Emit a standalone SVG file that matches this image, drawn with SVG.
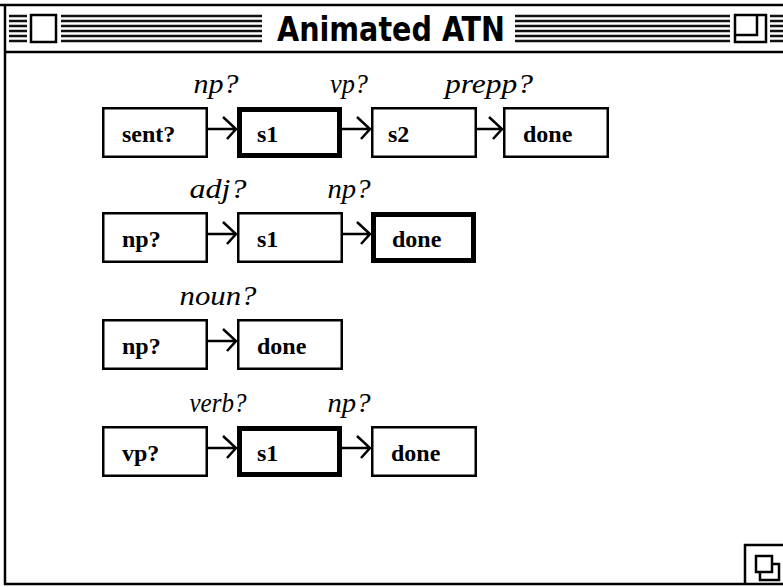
<svg xmlns="http://www.w3.org/2000/svg" width="783" height="587" viewBox="0 0 783 587">
<style>
.frame{fill:none;stroke:#000;stroke-width:2.5}
.stripe{stroke:#111;stroke-width:2.5}
.box{fill:#fff;stroke:#000;stroke-width:2.5}
.thick{fill:#fff;stroke:#000;stroke-width:5}
.lbl{font-family:"Liberation Serif",serif;font-weight:bold;font-size:24px;fill:#000}
.arc{font-family:"Liberation Serif",serif;font-style:italic;font-size:27px;fill:#000;text-anchor:middle}
.title{font-family:"DejaVu Sans Condensed","DejaVu Sans",sans-serif;font-weight:bold;font-size:33px;fill:#000}
.conn{fill:none;stroke:#000;stroke-width:2.5;stroke-linejoin:miter}
</style>
<rect x="0" y="0" width="783" height="587" fill="#fff"/>
<g id="window">
<line class="frame" x1="0" y1="5" x2="783" y2="5"/>
<line class="frame" x1="5" y1="4" x2="5" y2="585"/>
<line class="frame" x1="4" y1="52" x2="783" y2="52"/>
<line class="frame" x1="4" y1="584" x2="783" y2="584"/>
<g id="stripes">
<path class="stripe" d="M9 16H27M9 21H27M9 26H27M9 31H27M9 36H27M9 41H27"/>
<path class="stripe" d="M61 16H262M61 21H262M61 26H262M61 31H262M61 36H262M61 41H262"/>
<path class="stripe" d="M515 16H730M515 21H730M515 26H730M515 31H730M515 36H730M515 41H730"/>
<path class="stripe" d="M770 16H783M770 21H783M770 26H783M770 31H783M770 36H783M770 41H783"/>
</g>
<rect id="closebox" class="box" x="31" y="15" width="25" height="27"/>
<g id="zoombox">
<rect class="box" x="735" y="15" width="31" height="27"/>
<path class="frame" d="M735 35H757V15"/>
</g>
<text class="title" x="277" y="41" textLength="228" lengthAdjust="spacingAndGlyphs">Animated ATN</text>
<g id="growbox">
<path class="frame" d="M745 584V545H783"/>
<rect class="frame" x="756" y="556" width="16" height="16" fill="#fff"/>
<path class="frame" d="M760 572V580H779V564H772"/>
</g>
</g>

<g id="connectors">
<path class="conn" d="M208 129H236M223 117L236 129L227 139"/>
<path class="conn" d="M342 129H370M357 117L370 129L361 139"/>
<path class="conn" d="M477 129H502M489 117L502 129L493 139"/>
<path class="conn" d="M208 234H236M223 222L236 234L227 244"/>
<path class="conn" d="M342 234H370M357 222L370 234L361 244"/>
<path class="conn" d="M208 341H236M223 329L236 341L227 351"/>
<path class="conn" d="M208 448H236M223 436L236 448L227 458"/>
<path class="conn" d="M342 448H370M357 436L370 448L361 458"/>
</g>

<g id="arc-labels">
<text class="arc" x="216" y="93" textLength="45" lengthAdjust="spacingAndGlyphs">np?</text>
<text class="arc" x="349" y="93" textLength="38" lengthAdjust="spacingAndGlyphs">vp?</text>
<text class="arc" x="489" y="93" textLength="88" lengthAdjust="spacingAndGlyphs">prepp?</text>
<text class="arc" x="218" y="198" textLength="57" lengthAdjust="spacingAndGlyphs">adj?</text>
<text class="arc" x="349" y="198" textLength="43" lengthAdjust="spacingAndGlyphs">np?</text>
<text class="arc" x="218" y="305" textLength="77" lengthAdjust="spacingAndGlyphs">noun?</text>
<text class="arc" x="218" y="412" textLength="57" lengthAdjust="spacingAndGlyphs">verb?</text>
<text class="arc" x="349" y="412" textLength="43" lengthAdjust="spacingAndGlyphs">np?</text>
</g>

<g id="sent-start"><rect class="box" x="103.25" y="108.25" width="103.5" height="48.5"/><text class="lbl" x="122" y="142">sent?</text></g>
<g id="sent-s1"><rect class="thick" x="239.5" y="109.5" width="100" height="46"/><text class="lbl" x="257" y="142">s1</text></g>
<g id="sent-s2"><rect class="box" x="372.25" y="108.25" width="103.5" height="48.5"/><text class="lbl" x="388" y="142">s2</text></g>
<g id="sent-done"><rect class="box" x="504.25" y="108.25" width="103.5" height="48.5"/><text class="lbl" x="523" y="142">done</text></g>

<g id="np1-start"><rect class="box" x="103.25" y="213.25" width="103.5" height="48.5"/><text class="lbl" x="122" y="247">np?</text></g>
<g id="np1-s1"><rect class="box" x="238.25" y="213.25" width="103.5" height="48.5"/><text class="lbl" x="257" y="247">s1</text></g>
<g id="np1-done"><rect class="thick" x="373.5" y="214.5" width="100" height="46"/><text class="lbl" x="392" y="247">done</text></g>

<g id="np2-start"><rect class="box" x="103.25" y="320.25" width="103.5" height="48.5"/><text class="lbl" x="122" y="354">np?</text></g>
<g id="np2-done"><rect class="box" x="238.25" y="320.25" width="103.5" height="48.5"/><text class="lbl" x="257" y="354">done</text></g>

<g id="vp-start"><rect class="box" x="103.25" y="427.25" width="103.5" height="48.5"/><text class="lbl" x="122" y="461">vp?</text></g>
<g id="vp-s1"><rect class="thick" x="239.5" y="428.5" width="100" height="46"/><text class="lbl" x="257" y="461">s1</text></g>
<g id="vp-done"><rect class="box" x="372.25" y="427.25" width="103.5" height="48.5"/><text class="lbl" x="391" y="461">done</text></g>
</svg>
